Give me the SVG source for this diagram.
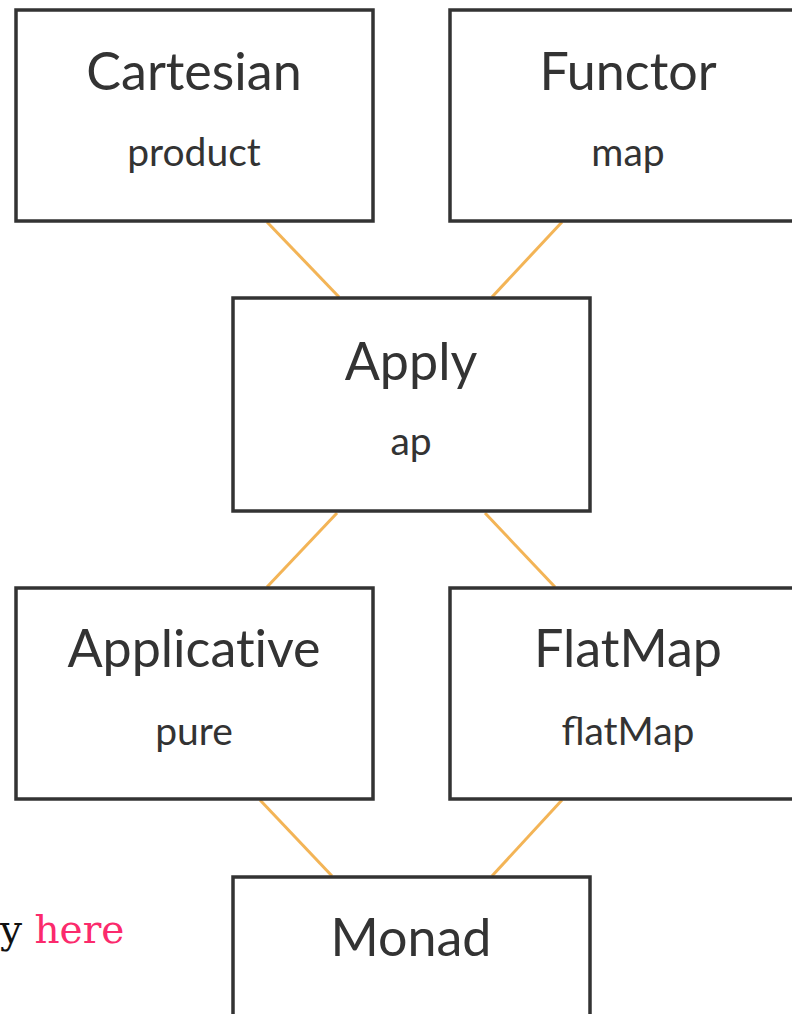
<svg xmlns="http://www.w3.org/2000/svg" width="792" height="1014" viewBox="0 0 792 1014">
<style>
.box{fill:#fff;stroke:#333;stroke-width:3.5}
.t{font-family:Lato,"Open Sans",sans-serif;font-size:52px;fill:#333;text-anchor:middle}
.s{font-family:Lato,"Open Sans",sans-serif;font-size:39px;fill:#333;text-anchor:middle}
.nl{font-variant-ligatures:none}
.c{stroke:#f3b456;stroke-width:3;fill:none}
.p{font-family:"DejaVu Serif","Liberation Serif",serif;font-size:39px;fill:#111}
</style>
<rect width="792" height="1014" fill="#fff"/>
<g id="connectors">
<line class="c" x1="267" y1="222" x2="339" y2="297"/>
<line class="c" x1="562" y1="222" x2="492" y2="297"/>
<line class="c" x1="337" y1="513" x2="267" y2="587"/>
<line class="c" x1="485" y1="513" x2="555" y2="587"/>
<line class="c" x1="260" y1="800" x2="332" y2="876"/>
<line class="c" x1="562" y1="800" x2="492" y2="876"/>
</g>
<g id="cartesian"><rect class="box" x="16" y="10" width="357" height="211"/><text class="t" x="194" y="90">Cartesian</text><text class="s" x="194" y="166">product</text></g>
<g id="functor"><rect class="box" x="450" y="10" width="357" height="211"/><text class="t" x="628" y="90">Functor</text><text class="s" x="628" y="166">map</text></g>
<g id="apply"><rect class="box" x="233" y="298" width="357" height="213"/><text class="t" x="411" y="380">Apply</text><text class="s" x="411" y="455">ap</text></g>
<g id="applicative"><rect class="box" x="16" y="588" width="357" height="211"/><text class="t nl" x="194" y="667">Applicative</text><text class="s" x="194" y="745">pure</text></g>
<g id="flatmap"><rect class="box" x="450" y="588" width="357" height="211"/><text class="t" x="628" y="667">FlatMap</text><text class="s" x="628" y="745">flatMap</text></g>
<g id="monad"><rect class="box" x="233" y="877" width="357" height="211"/><text class="t" x="411" y="956">Monad</text></g>
<text class="p" x="0" y="943">y <tspan fill="#fb2a6c">here</tspan></text>
</svg>
